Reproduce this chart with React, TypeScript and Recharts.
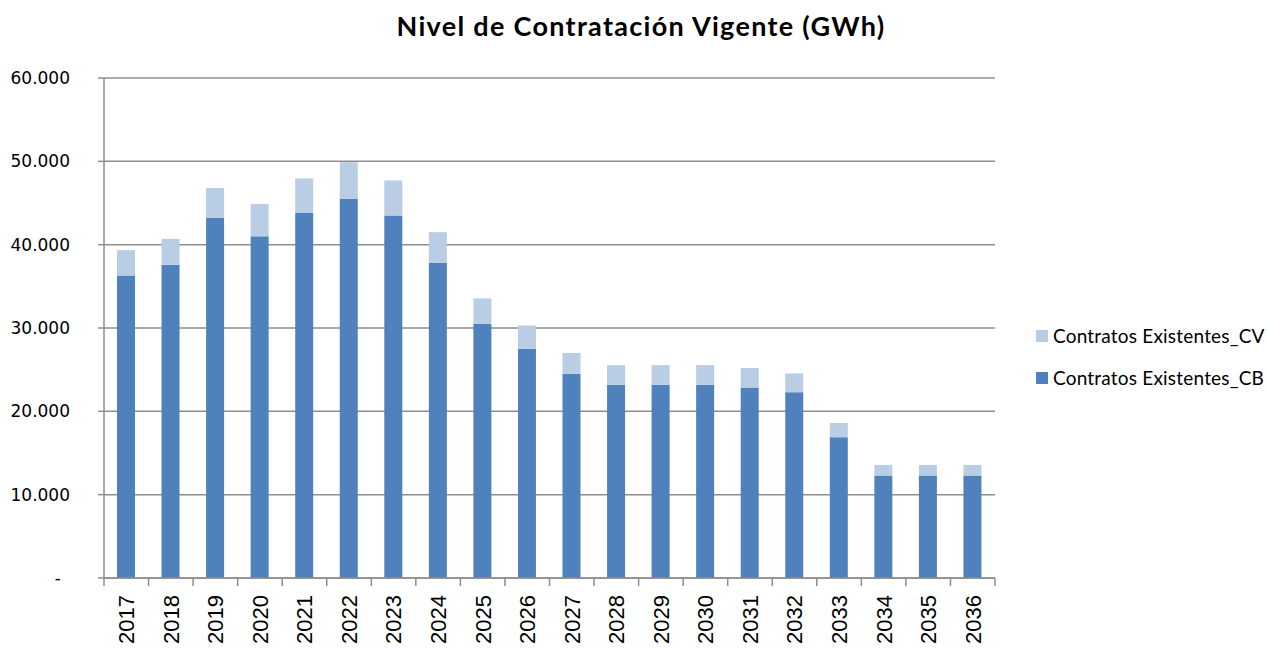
import React from "react";
import { BarChart, Bar, XAxis, YAxis, CartesianGrid } from "recharts";

const years = ["2017", "2018", "2019", "2020", "2021", "2022", "2023", "2024", "2025", "2026", "2027", "2028", "2029", "2030", "2031", "2032", "2033", "2034", "2035", "2036"];
const contratosCB = [36300, 37600, 43200, 41000, 43800, 45500, 43500, 37800, 30500, 27500, 24500, 23200, 23200, 23200, 22850, 22300, 16900, 12300, 12300, 12300];
const contratosCV = [3050, 3100, 3600, 3900, 4150, 4400, 4200, 3700, 3050, 2800, 2500, 2350, 2350, 2350, 2350, 2250, 1700, 1270, 1270, 1270];
const yTicks = [0, 10000, 20000, 30000, 40000, 50000, 60000];

const data = years.map((year, i) => ({ year, cb: contratosCB[i], cv: contratosCV[i] }));

const W = 1268;
const H = 650;
const M = { top: 78, right: 273, left: 8, bottom: 8 };
const Y_W = 96;
const GRID = "#8e8e8e";
const CB_COLOR = "#4f81bd";
const CV_COLOR = "#b9cde5";

const fmt = (v: number) => (v === 0 ? "-" : String(v).replace(/\B(?=(\d{3})+(?!\d))/g, "."));

function YTick(props: any) {
  const { x, y, payload } = props;
  const v = payload.value;
  return (
    <text x={v === 0 ? x - 9 : x} y={y} dy="0.36em" textAnchor="end" fontFamily="DejaVu Sans" fontSize={17} fill="#000">
      {fmt(v)}
    </text>
  );
}

function XTick(props: any) {
  const { x, y, payload, index } = props;
  const half = payload.offset ?? (W - M.left - M.right - Y_W) / years.length / 2;
  return (
    <g>
      <line x1={x - half} y1={y} x2={x - half} y2={y + 8} stroke={GRID} strokeWidth={1.5} />
      {index === years.length - 1 && <line x1={x + half} y1={y} x2={x + half} y2={y + 8} stroke={GRID} strokeWidth={1.5} />}
      <text transform={`translate(${x},${y + 17}) rotate(-90)`} textAnchor="end" dy="0.36em" fontFamily="Liberation Sans" fontSize={22} fill="#000">
        {payload.value}
      </text>
    </g>
  );
}

const legendItems = [
  { label: "Contratos Existentes_CV", color: CV_COLOR },
  { label: "Contratos Existentes_CB", color: CB_COLOR },
];

export default function App() {
  return (
    <div style={{ position: "relative", width: W, height: H, fontFamily: "Lato" }}>
      <style>{"body{margin:0;overflow:hidden}"}</style>
      <div style={{ position: "absolute", left: 641, top: 9, transform: "translateX(-50%)", whiteSpace: "nowrap", fontWeight: 700, fontSize: 27, letterSpacing: 1.3, lineHeight: "34px" }}>
        Nivel de Contratación Vigente (GWh)
      </div>
      <BarChart width={W} height={H} data={data} margin={M}>
        <CartesianGrid vertical={false} stroke={GRID} strokeWidth={1.5} />
        <XAxis dataKey="year" interval={0} height={64} tickLine={false} tickSize={0} tickMargin={0} axisLine={{ stroke: GRID, strokeWidth: 1.5 }} tick={<XTick />} />
        <YAxis width={Y_W} domain={[0, 60000]} ticks={yTicks} tickSize={6} tickMargin={28} tickLine={{ stroke: GRID, strokeWidth: 1.5 }} axisLine={{ stroke: GRID, strokeWidth: 1.5 }} tick={<YTick />} />
        <Bar dataKey="cb" stackId="a" fill={CB_COLOR} barSize={18} isAnimationActive={false} />
        <Bar dataKey="cv" stackId="a" fill={CV_COLOR} barSize={18} isAnimationActive={false} />
      </BarChart>
      <div style={{ position: "absolute", left: 1036, top: 323, width: 232, fontSize: 19, letterSpacing: 0.2 }}>
        {legendItems.map((it) => (
          <div key={it.label} style={{ display: "flex", alignItems: "center", height: 25, marginBottom: 17 }}>
            <span style={{ width: 12, height: 12, background: it.color, marginRight: 5, display: "inline-block", flexShrink: 0 }} />
            <span style={{ whiteSpace: "nowrap" }}>{it.label}</span>
          </div>
        ))}
      </div>
    </div>
  );
}
